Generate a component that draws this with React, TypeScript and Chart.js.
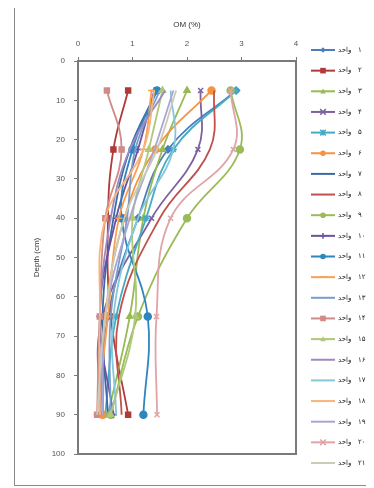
import React, { useEffect, useRef } from "react";
import { Chart, registerables } from "chart.js";

Chart.register(...registerables);

// Depth of each sampled layer (cm)
const DEPTHS = [7.5, 22.5, 40, 65, 90];

// Y tick labels / X tick range
const X_TICKS = [0, 1, 2, 3, 4];
const Y_TICKS = [0, 10, 20, 30, 40, 50, 60, 70, 80, 90, 100];

const SERIES_WORD = "واحد";
const SERIES_NUMS = ["۱", "۲", "۳", "۴", "۵", "۶", "۷", "۸", "۹", "۱۰", "۱۱", "۱۲", "۱۳", "۱۴", "۱۵", "۱۶", "۱۷", "۱۸", "۱۹", "۲۰", "۲۱"];

// OM (%) per series at DEPTHS
const OM_1 = [2.9, 1.65, 1.1, 0.55, 0.45];
const OM_2 = [0.92, 0.65, 0.55, 0.6, 0.92];
const OM_3 = [2.0, 1.55, 1.2, 0.95, 0.55];
const OM_4 = [2.25, 2.2, 1.35, 0.45, 0.4];
const OM_5 = [2.9, 1.75, 1.25, 0.7, 0.5];
const OM_6 = [2.45, 1.42, 0.85, 0.5, 0.45];
const OM_7 = [1.45, 0.95, 0.65, 0.45, 0.55];
const OM_8 = [2.5, 2.42, 1.5, 0.75, 0.8];
const OM_9 = [2.8, 2.97, 2.0, 1.1, 0.6];
const OM_10 = [1.4, 1.1, 0.7, 0.4, 0.65];
const OM_11 = [1.45, 1.0, 0.8, 1.28, 1.2];
const OM_12 = [1.35, 1.2, 0.75, 0.55, 0.35];
const OM_13 = [1.5, 1.05, 0.9, 0.6, 0.6];
const OM_14 = [0.53, 0.8, 0.5, 0.4, 0.35];
const OM_15 = [1.55, 1.3, 1.0, 1.05, 0.6];
const OM_16 = [1.6, 0.95, 0.6, 0.4, 0.45];
const OM_17 = [1.7, 1.75, 1.1, 0.65, 0.7];
const OM_18 = [1.4, 1.2, 0.5, 0.4, 0.4];
const OM_19 = [1.75, 1.4, 0.95, 0.5, 0.45];
const OM_20 = [2.8, 2.85, 1.7, 1.44, 1.45];
const OM_21 = [1.8, 1.45, 0.85, 0.5, 0.35];

const SERIES_VALUES = [OM_1, OM_2, OM_3, OM_4, OM_5, OM_6, OM_7, OM_8, OM_9, OM_10, OM_11, OM_12, OM_13, OM_14, OM_15, OM_16, OM_17, OM_18, OM_19, OM_20, OM_21];

const COLORS = [
  "#4A7EBB", "#B03A37", "#98B954", "#7D60A0", "#46AAC5", "#F69240",
  "#3D6AA6", "#C0504D", "#9BBB59", "#6B52A0", "#2F86BE", "#F7A055",
  "#7A9CCB", "#D08A88", "#AFC97A", "#9C8AC0", "#84C8DA", "#F9B47A",
  "#A9A6D4", "#E0A3A8", "#C8CCB8",
];

const MARKERS: (string | null)[] = [
  "rectRot", "rect", "triangle", "crossRot", "star", "circle",
  null, null, "circle", "cross", "circle", "line",
  null, "rect", "triangle", null, null, null,
  null, "crossRot", null,
];

function drawMarker(ctx: CanvasRenderingContext2D, style: string, x: number, y: number, r: number, color: string) {
  ctx.save();
  ctx.fillStyle = color;
  ctx.strokeStyle = color;
  ctx.lineWidth = 1.5;
  ctx.beginPath();
  switch (style) {
    case "rectRot":
      ctx.moveTo(x, y - r); ctx.lineTo(x + r, y); ctx.lineTo(x, y + r); ctx.lineTo(x - r, y); ctx.closePath(); ctx.fill();
      break;
    case "rect":
      ctx.rect(x - r, y - r, 2 * r, 2 * r); ctx.fill();
      break;
    case "triangle":
      ctx.moveTo(x, y - r); ctx.lineTo(x + r, y + r * 0.8); ctx.lineTo(x - r, y + r * 0.8); ctx.closePath(); ctx.fill();
      break;
    case "circle":
      ctx.arc(x, y, r, 0, Math.PI * 2); ctx.fill();
      break;
    case "crossRot":
      ctx.moveTo(x - r, y - r); ctx.lineTo(x + r, y + r); ctx.moveTo(x + r, y - r); ctx.lineTo(x - r, y + r); ctx.stroke();
      break;
    case "cross":
      ctx.moveTo(x - r, y); ctx.lineTo(x + r, y); ctx.moveTo(x, y - r); ctx.lineTo(x, y + r); ctx.stroke();
      break;
    case "star":
      ctx.moveTo(x - r, y - r); ctx.lineTo(x + r, y + r); ctx.moveTo(x + r, y - r); ctx.lineTo(x - r, y + r);
      ctx.moveTo(x, y - r); ctx.lineTo(x, y + r); ctx.stroke();
      break;
    case "line":
      ctx.moveTo(x - r, y); ctx.lineTo(x + r, y); ctx.stroke();
      break;
  }
  ctx.restore();
}

const framePlugin = {
  id: "frame",
  beforeDraw(chart: any) {
    const ctx = chart.ctx as CanvasRenderingContext2D;
    ctx.save();
    ctx.fillStyle = "#ffffff";
    ctx.fillRect(0, 0, chart.width, chart.height);
    ctx.strokeStyle = "#8a8a8a";
    ctx.lineWidth = 1;
    ctx.strokeRect(14.5, 5.5, 359, 480);
    ctx.restore();
  },
  afterDatasetsDraw(chart: any) {
    const ctx = chart.ctx as CanvasRenderingContext2D;
    const a = chart.chartArea;
    ctx.save();
    ctx.strokeStyle = "#7a7a7a";
    ctx.lineWidth = 2;
    ctx.strokeRect(a.left, a.top, a.right - a.left, a.bottom - a.top);
    ctx.restore();
  },
  afterDraw(chart: any) {
    const ctx = chart.ctx as CanvasRenderingContext2D;
    ctx.save();
    chart.data.datasets.forEach((ds: any, i: number) => {
      const y = 50 + i * 20.65;
      ctx.strokeStyle = ds.borderColor;
      ctx.lineWidth = 2;
      ctx.beginPath();
      ctx.moveTo(311, y);
      ctx.lineTo(335, y);
      ctx.stroke();
      if (ds.legendMarker) drawMarker(ctx, ds.legendMarker, 323, y, 2.8, ds.borderColor);
      ctx.fillStyle = "#222";
      ctx.font = "7px 'DejaVu Sans'";
      ctx.textBaseline = "middle";
      ctx.textAlign = "left";
      ctx.fillText(SERIES_WORD, 338, y);
      ctx.fillText(SERIES_NUMS[i], 358, y);
    });
    ctx.restore();
  },
};

export default function App() {
  const ref = useRef<HTMLCanvasElement>(null);
  useEffect(() => {
    if (!ref.current) return;
    const datasets = SERIES_VALUES.map((vals, i) => ({
      label: SERIES_WORD + " " + SERIES_NUMS[i],
      data: vals.map((v, k) => ({ x: v, y: DEPTHS[k] })),
      showLine: true,
      borderColor: COLORS[i],
      backgroundColor: COLORS[i],
      borderWidth: 1.8,
      tension: 0.4,
      pointStyle: MARKERS[i] || "circle",
      pointRadius: MARKERS[i] ? 3.5 : 0,
      pointBorderWidth: 1.5,
      legendMarker: MARKERS[i],
      order: 30 - i,
    }));
    const tickFont = { size: 8, family: "'Liberation Sans', Arial, sans-serif" };
    const chart = new Chart(ref.current, {
      type: "scatter",
      data: { datasets: datasets as any },
      options: {
        animation: false,
        responsive: false,
        devicePixelRatio: 1,
        layout: { padding: { left: 14, top: 5, right: 78, bottom: 34 } },
        plugins: { legend: { display: false }, tooltip: { enabled: false } },
        scales: {
          x: {
            type: "linear",
            position: "top",
            min: X_TICKS[0],
            max: X_TICKS[X_TICKS.length - 1],
            afterBuildTicks: (s: any) => { s.ticks = X_TICKS.map((v) => ({ value: v })); },
            afterFit: (s: any) => { s.height = 56; },
            ticks: { font: tickFont, color: "#555", padding: 8 },
            grid: { drawOnChartArea: false, drawTicks: true, tickLength: 4, color: "#7a7a7a" },
            border: { display: false },
            title: { display: true, text: "OM (%)", font: tickFont, color: "#333", padding: { top: 15, bottom: 0 } },
          },
          y: {
            type: "linear",
            position: "left",
            reverse: true,
            min: Y_TICKS[0],
            max: Y_TICKS[Y_TICKS.length - 1],
            afterBuildTicks: (s: any) => { s.ticks = Y_TICKS.map((v) => ({ value: v })); },
            afterFit: (s: any) => { s.width = 64; },
            ticks: { font: tickFont, color: "#555", padding: 9 },
            grid: { drawOnChartArea: false, drawTicks: true, tickLength: 4, color: "#7a7a7a" },
            border: { display: false },
            title: { display: true, text: "Depth (cm)", font: tickFont, color: "#333", padding: { top: 18, bottom: 0 } },
          },
        },
      },
      plugins: [framePlugin as any],
    });
    return () => chart.destroy();
  }, []);
  return (
    <div style={{ position: "relative", width: 374, height: 488, margin: "-8px 0 0 -8px", background: "#fff" }}>
      <canvas ref={ref} width={374} height={488} style={{ position: "absolute", left: 0, top: 0, width: 374, height: 488 }} />
    </div>
  );
}
